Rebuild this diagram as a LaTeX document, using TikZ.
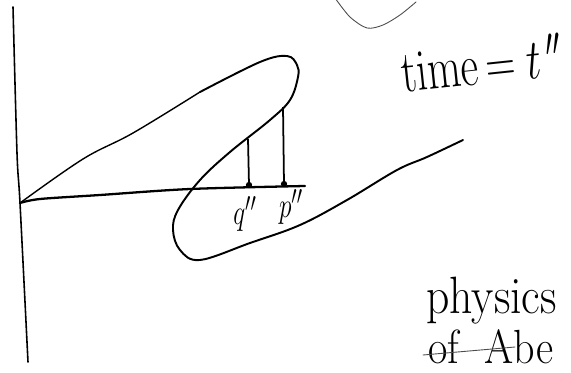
\documentclass[tikz,border=0pt]{standalone}
\usepackage{amsmath}
\usepackage{tikz}

\begin{document}
\begin{tikzpicture}[x=0.02cm, y=-0.02cm,
    pen/.style={line width=1.1pt, line cap=round, line join=round},
    fine/.style={line width=0.5pt, line cap=round, gray!60!black},
    drop/.style={line width=1pt},
    tip/.style={circle, fill, inner sep=0pt, minimum size=3.6pt},
    hand/.style={inner sep=0pt, font=\fontsize{26}{30}\selectfont},
    lbl/.style={inner sep=0pt, font=\fontsize{15}{18}\selectfont}
  ]
  \useasboundingbox (0,0) rectangle (571,372);
  \clip (0,0) rectangle (571,372);

  % axis and the two curves from the corner
  \coordinate (J) at (20,203);
  \draw[pen, line width=0.9pt] plot[smooth] coordinates {(13,7) (17,153) (J) (28,362)};
  \draw[pen, line width=1.3pt] plot[smooth] coordinates {(J) (40,199) (100,195) (190,189) (305,186)};
  \draw[pen, line width=0.8pt] plot[smooth, tension=0.6] coordinates {(J) (83,159) (133,133) (200,92)};
  \draw[pen] plot[smooth, tension=0.6] coordinates {(200,92) (260,62)
    (287,56) (297,65) (298,77) (290,100) (270,120) (230,152) (200,180) (178,210) (173,230)
    (180,250) (200,260) (250,243) (300,225) (347,200) (397,170) (427,157) (463,140)};
  \draw[fine] plot[smooth] coordinates {(335,-2) (350,17) (367,28) (383,25) (400,15) (416,2)};

  % q'' and p''
  \coordinate (qtop) at (248,139);
  \coordinate (ptop) at (283,107);
  \node[tip] (qdot) at (249,185) {};
  \node[tip] (pdot) at (284,184) {};
  \draw[drop] (qtop) -- (qdot.center);
  \draw[drop] (ptop) -- (pdot.center);
  \node[lbl] (qlbl) at (245,214) {\scalebox{1}[1.4]{$q''$}};
  \node[lbl] (plbl) at (291,207) {\scalebox{1}[1.4]{$p''$}};

  % words
  \node[hand, rotate=6] (time) at (482,63) {\scalebox{0.95}[1.3]{time\,$=t^{\,\prime\prime}$}};
  \node[hand, anchor=base west] (phys) at (426,313) {\scalebox{1}[1.15]{physics}};
  \node[hand, anchor=base west] (ofabe) at (428,363) {\scalebox{0.92}[1.05]{of\hspace{0.6em}Abe}};
  \draw[fine] (423,355) -- (515,347);
\end{tikzpicture}
\end{document}
